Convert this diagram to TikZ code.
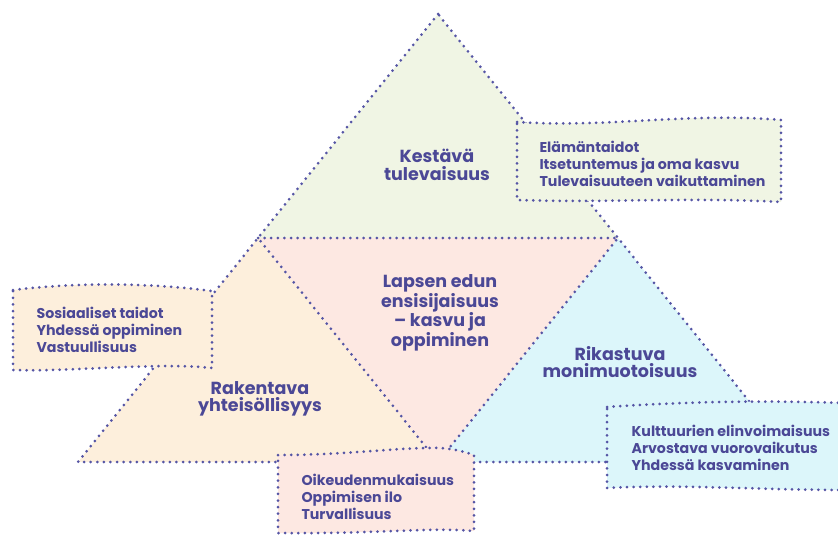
\documentclass[tikz,border=0pt]{standalone}
\usepackage{fontspec}
\setmainfont{Poppins}
\definecolor{dotblue}{RGB}{85,85,165}
\definecolor{txtblue}{RGB}{75,72,150}
\definecolor{topgreen}{RGB}{240,245,228}
\definecolor{midpink}{RGB}{253,232,226}
\definecolor{leftpeach}{RGB}{253,239,220}
\definecolor{rightcyan}{RGB}{220,246,250}
\tikzset{
  dotline/.style={draw=dotblue,line width=3pt,line cap=round,dash pattern=on 0pt off 6.6pt},
  title/.style={text=txtblue,font=\bfseries\fontsize{17.5}{17.5}\selectfont,align=center},
  itemtext/.style={text=txtblue,font=\bfseries\fontsize{14.2}{17}\selectfont,align=left,anchor=west},
}
\begin{document}
\begin{tikzpicture}[x=1pt,y=-1pt]
\useasboundingbox (0,0) rectangle (838,535);
% corners and midpoints of the big triangle
\coordinate (A) at (438,14);
\coordinate (B) at (78,462);
\coordinate (C) at (798,462);
\coordinate (AB) at (258,238);
\coordinate (AC) at (618,238);
\coordinate (BC) at (438,462);
% the four triangles
\fill[topgreen] (A) -- (AB) -- (AC) -- cycle;
\fill[leftpeach] (AB) -- (B) -- (BC) -- cycle;
\fill[rightcyan] (AC) -- (BC) -- (C) -- cycle;
\fill[midpink] (AB) -- (AC) -- (BC) -- cycle;
\draw[dotline] (A) -- (B) -- (C) -- cycle;
\draw[dotline] (AB) -- (AC) -- (BC) -- cycle;
% the flags
\draw[dotline,fill=topgreen] (517,122) .. controls (610,128) and (690,112) .. (781,120)
  -- (781,202) .. controls (690,197) and (600,203) .. (517,200) -- cycle;
\draw[dotline,fill=leftpeach] (13,290) .. controls (80,282) and (150,283) .. (212,291)
  -- (212,368) .. controls (160,362) and (70,372) .. (13,370) -- cycle;
\draw[dotline,fill=rightcyan] (607,407) .. controls (680,402) and (760,400) .. (844,403)
  -- (844,490) .. controls (760,490) and (680,484) .. (607,488) -- cycle;
\draw[dotline,fill=midpink] (278,455) .. controls (350,455) and (400,447) .. (440,448)
  .. controls (455,449) and (465,452) .. (474,455)
  -- (474,531) .. controls (430,527) and (380,534) .. (278,533) -- cycle;
% titles
\node[title] (kestava) at (437,165) {Kestävä\\tulevaisuus};
\node[title] (lapsen) at (440,313) {Lapsen edun\\ensisijaisuus\\– kasvu ja\\oppiminen};
\node[title] (rakentava) at (260,399) {Rakentava\\yhteisöllisyys};
\node[title] (rikastuva) at (620,362) {Rikastuva\\monimuotoisuus};
% flag texts
\node[itemtext] (elama) at (536,164) {Elämäntaidot\\Itsetuntemus ja oma kasvu\\Tulevaisuuteen vaikuttaminen};
\node[itemtext] (sosiaali) at (33,330) {Sosiaaliset taidot\\Yhdessä oppiminen\\Vastuullisuus};
\node[itemtext] (kulttuuri) at (628,448) {Kulttuurien elinvoimaisuus\\Arvostava vuorovaikutus\\Yhdessä kasvaminen};
\node[itemtext] (oikeus) at (298,497) {Oikeudenmukaisuus\\Oppimisen ilo\\Turvallisuus};
\end{tikzpicture}
\end{document}
